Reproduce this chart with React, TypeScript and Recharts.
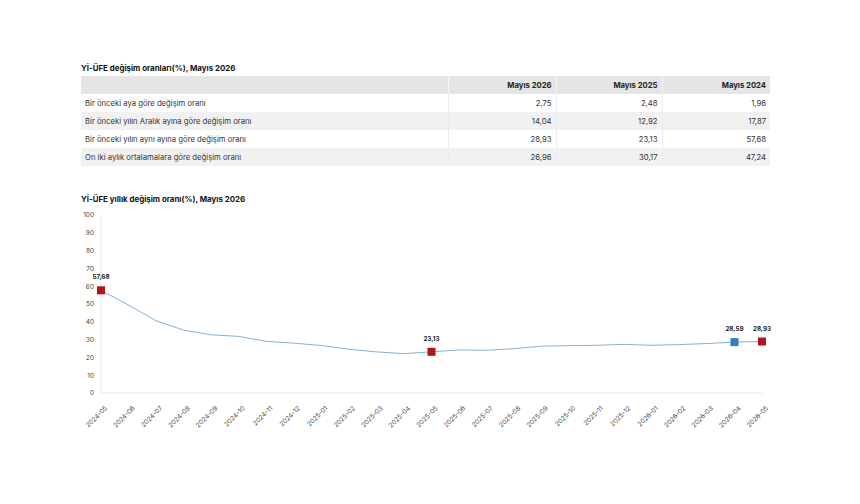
import React from "react";
import { LineChart, Line, XAxis, YAxis, LabelList } from "recharts";

const months = [
  "2024-05", "2024-06", "2024-07", "2024-08", "2024-09", "2024-10", "2024-11", "2024-12",
  "2025-01", "2025-02", "2025-03", "2025-04", "2025-05", "2025-06", "2025-07", "2025-08",
  "2025-09", "2025-10", "2025-11", "2025-12", "2026-01", "2026-02", "2026-03", "2026-04", "2026-05",
];
const annualRates = [
  57.68, 49.4, 40.6, 35.3, 32.7, 31.8, 29.0, 28.0,
  26.7, 24.6, 23.1, 22.1, 23.13, 24.2, 24.0, 24.9,
  26.3, 26.6, 26.8, 27.3, 26.8, 27.2, 27.8, 28.59, 28.93,
];
const sameMonthPoints = ["2024-05", "2025-05", "2026-05"];
const previousMonthPoints = ["2026-04"];
const yTicks = [0, 10, 20, 30, 40, 50, 60, 70, 80, 90, 100];

const tableTitle = "Yİ-ÜFE değişim oranları(%), Mayıs 2026";
const chartTitle = "Yİ-ÜFE yıllık değişim oranı(%), Mayıs 2026";
const tableColumns = ["Mayıs 2026", "Mayıs 2025", "Mayıs 2024"];
const tableRows = [
  "Bir önceki aya göre değişim oranı",
  "Bir önceki yılın Aralık ayına göre değişim oranı",
  "Bir önceki yılın aynı ayına göre değişim oranı",
  "On iki aylık ortalamalara göre değişim oranı",
];
const tableValues = [
  ["2,75", "2,48", "1,96"],
  ["14,04", "12,92", "17,87"],
  ["28,93", "23,13", "57,68"],
  ["26,96", "30,17", "47,24"],
];

const data = months.map((m, i) => ({ month: m, value: annualRates[i] }));

const RED = "#b0151e";
const BLUE = "#2f7dc0";
const FONT = "Inter, 'Noto Sans', sans-serif";

const fmt = (v: number) => v.toFixed(2).replace(".", ",");

function markerColor(month: string) {
  if (sameMonthPoints.includes(month)) return RED;
  if (previousMonthPoints.includes(month)) return BLUE;
  return null;
}

const SquareDot = (props: any) => {
  const { cx, cy, payload, index } = props;
  const c = markerColor(payload.month);
  if (!c) return <g key={`d-${index}`} />;
  return <rect key={`d-${index}`} x={cx - 4} y={cy - 4} width={8} height={8} fill={c} />;
};

const PointLabel = (props: any) => {
  const { x, y, value, index } = props;
  if (!markerColor(months[index])) return null;
  return (
    <text x={x} y={y - 11} textAnchor="middle" fontSize={6.3} fontWeight={700} fill="#222" fontFamily={FONT}>
      {fmt(value)}
    </text>
  );
};

const MonthTick = (props: any) => {
  const { x, y, payload } = props;
  return (
    <g transform={`translate(${x + 1},${y + 2})`}>
      <text x={0} y={0} dy={8} textAnchor="end" transform="rotate(-45)" fontSize={6.5} fill="#444" fontFamily={FONT}>
        {payload.value}
      </text>
    </g>
  );
};

export default function App() {
  const cell: React.CSSProperties = { height: 18, padding: "0 4px", fontSize: 7.7, color: "#333" };
  return (
    <div style={{ position: "absolute", left: 0, top: 0, width: 860, height: 504, background: "#fff", fontFamily: FONT }}>
      <div style={{ position: "absolute", left: 81, top: 63, fontSize: 7.9, fontWeight: 700, color: "#111" }}>{tableTitle}</div>
      <table
        style={{ position: "absolute", left: 81, top: 76, width: 689, borderCollapse: "collapse", tableLayout: "fixed" }}
      >
        <colgroup>
          <col style={{ width: 367 }} />
          <col style={{ width: 108 }} />
          <col style={{ width: 106 }} />
          <col style={{ width: 108 }} />
        </colgroup>
        <thead>
          <tr style={{ background: "#e5e5e5" }}>
            <th style={{ ...cell }} />
            {tableColumns.map((c) => (
              <th key={c} style={{ ...cell, textAlign: "right", fontWeight: 700, color: "#222", borderLeft: "1px solid #f4f4f4" }}>
                {c}
              </th>
            ))}
          </tr>
        </thead>
        <tbody>
          {tableRows.map((r, i) => (
            <tr key={r} style={{ background: i % 2 === 0 ? "#ffffff" : "#f1f1f1" }}>
              <td style={{ ...cell, textAlign: "left" }}>{r}</td>
              {tableValues[i].map((v, j) => (
                <td key={j} style={{ ...cell, textAlign: "right", borderLeft: "1px solid #ececec" }}>
                  {v}
                </td>
              ))}
            </tr>
          ))}
        </tbody>
      </table>

      <div style={{ position: "absolute", left: 81, top: 194, fontSize: 7.9, fontWeight: 700, color: "#111" }}>{chartTitle}</div>
      <div style={{ position: "absolute", left: 0, top: 0 }}>
        <LineChart width={860} height={504} data={data} margin={{ top: 215, right: 98, left: 81, bottom: 71 }}>
          <XAxis
            dataKey="month"
            interval={0}
            tick={<MonthTick />}
            tickLine={false}
            axisLine={{ stroke: "#e8e8e8" }}
            height={40}
          />
          <YAxis
            domain={[0, 100]}
            ticks={yTicks}
            width={20}
            tickLine={false}
            tickSize={5}
            tickMargin={2}
            axisLine={{ stroke: "#e8e8e8" }}
            tick={{ fontSize: 6.5, fill: "#444", fontFamily: FONT }}
          />
          <Line
            type="linear"
            dataKey="value"
            stroke="#7fb1d9"
            strokeWidth={1}
            dot={<SquareDot />}
            activeDot={false}
            isAnimationActive={false}
          >
            <LabelList dataKey="value" content={<PointLabel />} />
          </Line>
        </LineChart>
      </div>
    </div>
  );
}
